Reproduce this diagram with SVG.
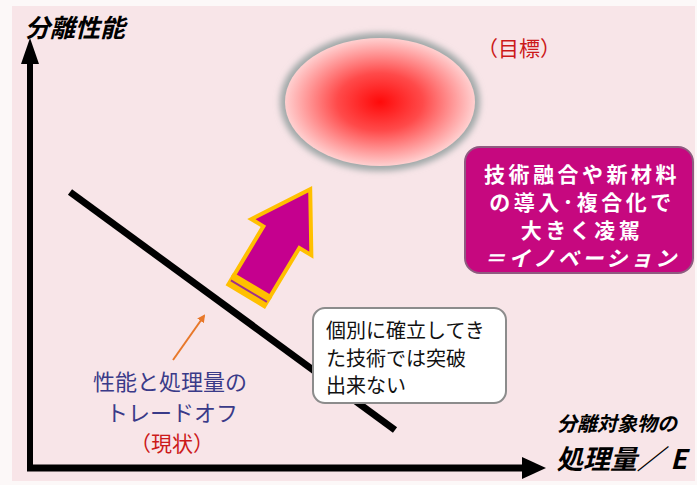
<svg xmlns="http://www.w3.org/2000/svg" width="697" height="485" viewBox="0 0 697 485">
<style>
.jp{font-family:"Noto Sans CJK JP","Noto Sans",sans-serif;}
.axis-title{font-weight:bold;font-style:italic;fill:#000;}
.white{fill:#fff;font-weight:bold;font-size:21px;letter-spacing:3.5px;}
.blk{fill:#111;font-size:20px;}
.blue{fill:#3A3A88;font-size:22px;}
.red{fill:#CC1A1A;font-size:21px;}
</style>
<defs>
<radialGradient id="glow" cx="50%" cy="50%" r="50%">
<stop offset="0" stop-color="#FF0A0A"/>
<stop offset="0.45" stop-color="#FF4A4A"/>
<stop offset="1" stop-color="#FFD0D0"/>
</radialGradient>
<filter id="blur" x="-20%" y="-20%" width="140%" height="140%">
<feGaussianBlur stdDeviation="3"/>
</filter>
<marker id="oarrow" markerWidth="8" markerHeight="8" refX="6" refY="4" orient="auto" markerUnits="userSpaceOnUse">
<path d="M0,0 L8,4 L0,8 Z" fill="#E8782A"/>
</marker>
</defs>
<rect x="0" y="0" width="697" height="485" fill="#FCF8F8"/>
<rect x="12" y="6" width="683" height="475" fill="#F8E5E8"/>

<g id="axes">
<line x1="30" y1="471" x2="30" y2="58" stroke="#000" stroke-width="6"/>
<path d="M30,38 L39,64 L21,64 Z" fill="#000"/>
<line x1="27" y1="468" x2="528" y2="468" stroke="#000" stroke-width="7"/>
<path d="M546,468 L522,457 L522,479 Z" fill="#000"/>
</g>

<g id="connectors">
<line x1="70" y1="192" x2="395" y2="430" stroke="#000" stroke-width="7"/>
<line x1="173" y1="360" x2="204" y2="316" stroke="#E8782A" stroke-width="2" marker-end="url(#oarrow)"/>
<g id="innovation-arrow" transform="translate(252,286) rotate(-59)">
<rect x="-13" y="-23" width="14" height="46" fill="#FFC000"/>
<line x1="-6" y1="-21" x2="-6" y2="21" stroke="#A0308A" stroke-width="2"/>
<path d="M0,-21 L57,-21 L57,-35 L113,0 L57,35 L57,21 L0,21 Z" fill="#C5008E" stroke="#FFC000" stroke-width="4" stroke-linejoin="miter"/>
</g>
</g>

<g id="y-label">
<text class="jp axis-title" x="25" y="37" font-size="25">分離性能</text>
</g>
<g id="x-label">
<text class="jp axis-title" x="557" y="431" font-size="20">分離対象物の</text>
<text class="jp axis-title" x="556" y="469" font-size="27">処理量／ E</text>
</g>

<g id="target">
<ellipse cx="380" cy="102" rx="100" ry="69" fill="#A0A8A8" filter="url(#blur)"/>
<ellipse cx="380" cy="102" rx="95" ry="64" fill="url(#glow)"/>
<text class="jp red" x="477" y="56" font-size="20">（目標）</text>
</g>

<g id="innovation-box">
<rect x="465" y="147" width="228" height="126" rx="15" fill="#C6087F" stroke="#8E5C80" stroke-width="2"/>
<text class="jp white" x="582" y="182" text-anchor="middle">技術融合や新材料</text>
<text class="jp white" x="582" y="210" text-anchor="middle">の導入･複合化で</text>
<text class="jp white" x="582" y="238" text-anchor="middle">大きく凌駕</text>
<text class="jp white" x="582" y="266" text-anchor="middle" font-style="italic">＝イノベーション</text>
</g>

<g id="callout">
<rect x="313" y="308" width="193" height="95" rx="12" fill="#FFFFFF" stroke="#8C8C8C" stroke-width="2"/>
<text class="jp blk" x="326" y="338">個別に確立してき</text>
<text class="jp blk" x="326" y="366">た技術では突破</text>
<text class="jp blk" x="326" y="393">出来ない</text>
</g>

<g id="tradeoff-label">
<text class="jp blue" x="170" y="390" text-anchor="middle">性能と処理量の</text>
<text class="jp blue" x="172" y="421" text-anchor="middle">トレードオフ</text>
<text class="jp red" x="172" y="451" text-anchor="middle" font-size="22">（現状）</text>
</g>
</svg>
